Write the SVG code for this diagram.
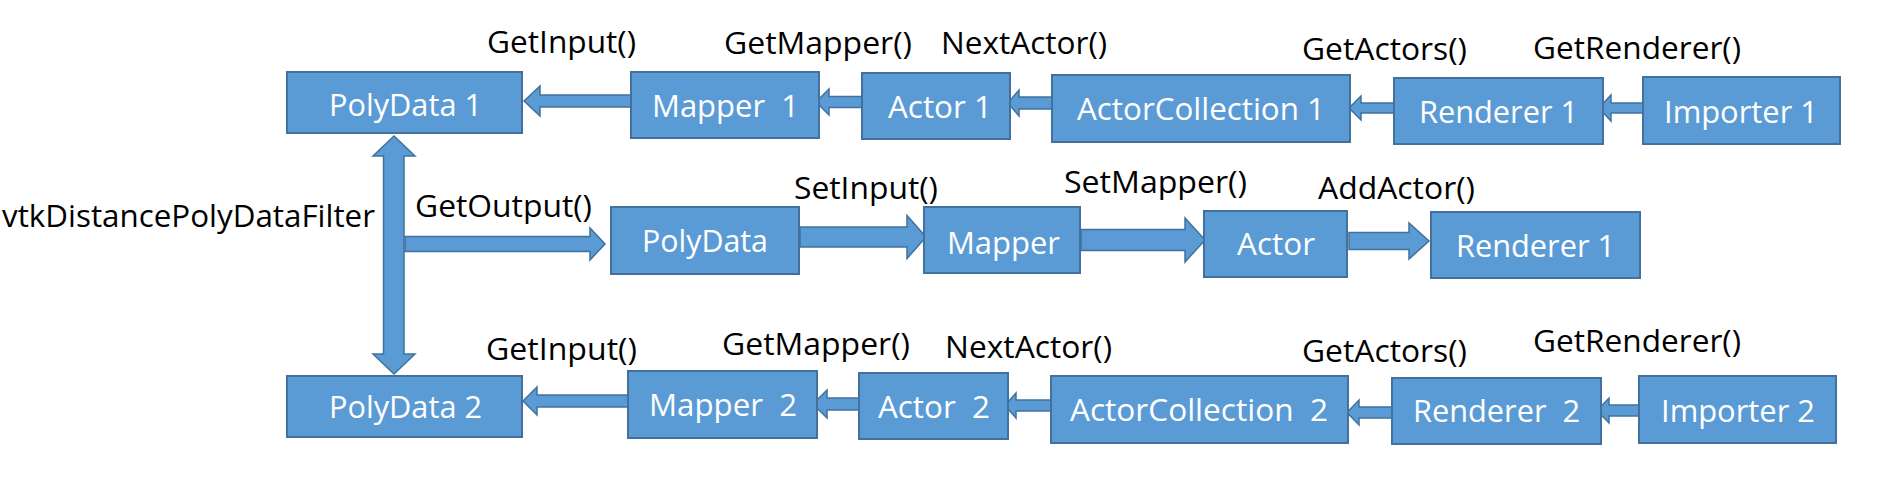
<svg xmlns="http://www.w3.org/2000/svg" width="1883" height="494" viewBox="0 0 1883 494">
<style>
.box{fill:#5B9BD5;stroke:#41719C;stroke-width:2}
.arr{fill:#5B9BD5;stroke:#41719C;stroke-width:1.5;stroke-linejoin:miter}
.bt{fill:#FFFFFF;font-family:"Open Sans","Liberation Sans",sans-serif;font-size:31px;white-space:pre}
.lb{fill:#000000;font-family:"Open Sans","Liberation Sans",sans-serif;font-size:31px;white-space:pre}
</style>
<rect width="1883" height="494" fill="#FFFFFF"/>
<g id="connectors">
<polygon class="arr" points="524,101 540,86 540,95 631,95 631,107 540,107 540,116"/>
<polygon class="arr" points="816,102 829,89 829,96.5 862,96.5 862,107.5 829,107.5 829,115"/>
<polygon class="arr" points="1008,103 1019,90 1019,97 1052,97 1052,109 1019,109 1019,116"/>
<polygon class="arr" points="1349,108 1361,96 1361,103 1394,103 1394,113 1361,113 1361,120"/>
<polygon class="arr" points="1599,108 1611,95 1611,103 1643,103 1643,113 1611,113 1611,121"/>
<polygon class="arr" points="394,136 415,156 404,156 404,354 415,354 394,374 373,354 383.5,354 383.5,156 373,156"/>
<polygon class="arr" points="405,236.5 590,236.5 590,228 605,244 590,260 590,251.5 405,251.5"/>
<polygon class="arr" points="800,227 907,227 907,215.5 926,237 907,258.5 907,247 800,247"/>
<polygon class="arr" points="1081,229.5 1185,229.5 1185,218 1205,240 1185,262 1185,250.5 1081,250.5"/>
<polygon class="arr" points="1349,232.5 1409,232.5 1409,223 1429,241 1409,259 1409,249.5 1349,249.5"/>
<polygon class="arr" points="523,401 537,387 537,395 628,395 628,407 537,407 537,415"/>
<polygon class="arr" points="813,404 827,390 827,398 859,398 859,410 827,410 827,418"/>
<polygon class="arr" points="1005,405.5 1016,393 1016,400 1051,400 1051,411 1016,411 1016,418"/>
<polygon class="arr" points="1347,412.5 1359,400 1359,407 1392,407 1392,418 1359,418 1359,425"/>
<polygon class="arr" points="1597,410.5 1609,398 1609,405 1639,405 1639,416 1609,416 1609,423"/>
</g>
<g id="labels">
<text class="lb" x="487" y="53" textLength="149" lengthAdjust="spacingAndGlyphs">GetInput()</text>
<text class="lb" x="724" y="54" textLength="188" lengthAdjust="spacingAndGlyphs">GetMapper()</text>
<text class="lb" x="941" y="54" textLength="166" lengthAdjust="spacingAndGlyphs">NextActor()</text>
<text class="lb" x="1302" y="60" textLength="165" lengthAdjust="spacingAndGlyphs">GetActors()</text>
<text class="lb" x="1533" y="59" textLength="208" lengthAdjust="spacingAndGlyphs">GetRenderer()</text>
<text class="lb" x="2" y="227" textLength="373" lengthAdjust="spacingAndGlyphs">vtkDistancePolyDataFilter</text>
<text class="lb" x="415" y="217" textLength="177" lengthAdjust="spacingAndGlyphs">GetOutput()</text>
<text class="lb" x="794" y="199" textLength="144" lengthAdjust="spacingAndGlyphs">SetInput()</text>
<text class="lb" x="1064" y="193" textLength="183" lengthAdjust="spacingAndGlyphs">SetMapper()</text>
<text class="lb" x="1318" y="199" textLength="157" lengthAdjust="spacingAndGlyphs">AddActor()</text>
<text class="lb" x="486" y="360" textLength="151" lengthAdjust="spacingAndGlyphs">GetInput()</text>
<text class="lb" x="722" y="355" textLength="188" lengthAdjust="spacingAndGlyphs">GetMapper()</text>
<text class="lb" x="945" y="358" textLength="167" lengthAdjust="spacingAndGlyphs">NextActor()</text>
<text class="lb" x="1302" y="362" textLength="165" lengthAdjust="spacingAndGlyphs">GetActors()</text>
<text class="lb" x="1533" y="352" textLength="208" lengthAdjust="spacingAndGlyphs">GetRenderer()</text>
</g>
<g id="polydata1"><rect class="box" x="287" y="72" width="235" height="61"/><text class="bt" x="329" y="116" textLength="153" lengthAdjust="spacingAndGlyphs">PolyData 1</text></g>
<g id="mapper1"><rect class="box" x="631" y="72" width="188" height="66"/><text class="bt" x="652" y="117" textLength="147" lengthAdjust="spacingAndGlyphs">Mapper  1</text></g>
<g id="actor1"><rect class="box" x="862" y="73" width="148" height="66"/><text class="bt" x="888" y="118" textLength="104" lengthAdjust="spacingAndGlyphs">Actor 1</text></g>
<g id="actorcollection1"><rect class="box" x="1052" y="75" width="298" height="67"/><text class="bt" x="1077" y="120" textLength="248" lengthAdjust="spacingAndGlyphs">ActorCollection 1</text></g>
<g id="renderer1top"><rect class="box" x="1394" y="78" width="209" height="66"/><text class="bt" x="1419" y="123" textLength="159" lengthAdjust="spacingAndGlyphs">Renderer 1</text></g>
<g id="importer1"><rect class="box" x="1643" y="77" width="197" height="67"/><text class="bt" x="1664" y="123" textLength="154" lengthAdjust="spacingAndGlyphs">Importer 1</text></g>
<g id="polydata"><rect class="box" x="611" y="207" width="188" height="67"/><text class="bt" x="642" y="252" textLength="126" lengthAdjust="spacingAndGlyphs">PolyData</text></g>
<g id="mapper"><rect class="box" x="924" y="207" width="156" height="66"/><text class="bt" x="947" y="254" textLength="113" lengthAdjust="spacingAndGlyphs">Mapper</text></g>
<g id="actor"><rect class="box" x="1204" y="211" width="143" height="66"/><text class="bt" x="1237" y="255" textLength="78" lengthAdjust="spacingAndGlyphs">Actor</text></g>
<g id="renderer1mid"><rect class="box" x="1431" y="212" width="209" height="66"/><text class="bt" x="1456" y="257" textLength="159" lengthAdjust="spacingAndGlyphs">Renderer 1</text></g>
<g id="polydata2"><rect class="box" x="287" y="376" width="235" height="61"/><text class="bt" x="329" y="418" textLength="153" lengthAdjust="spacingAndGlyphs">PolyData 2</text></g>
<g id="mapper2"><rect class="box" x="628" y="371" width="189" height="67"/><text class="bt" x="649" y="416" textLength="148" lengthAdjust="spacingAndGlyphs">Mapper  2</text></g>
<g id="actor2"><rect class="box" x="859" y="373" width="149" height="66"/><text class="bt" x="878" y="418" textLength="112" lengthAdjust="spacingAndGlyphs">Actor  2</text></g>
<g id="actorcollection2"><rect class="box" x="1051" y="376" width="297" height="67"/><text class="bt" x="1070" y="421" textLength="258" lengthAdjust="spacingAndGlyphs">ActorCollection  2</text></g>
<g id="renderer2"><rect class="box" x="1392" y="378" width="209" height="66"/><text class="bt" x="1413" y="422" textLength="167" lengthAdjust="spacingAndGlyphs">Renderer  2</text></g>
<g id="importer2"><rect class="box" x="1639" y="376" width="197" height="67"/><text class="bt" x="1661" y="422" textLength="154" lengthAdjust="spacingAndGlyphs">Importer 2</text></g>
</svg>
